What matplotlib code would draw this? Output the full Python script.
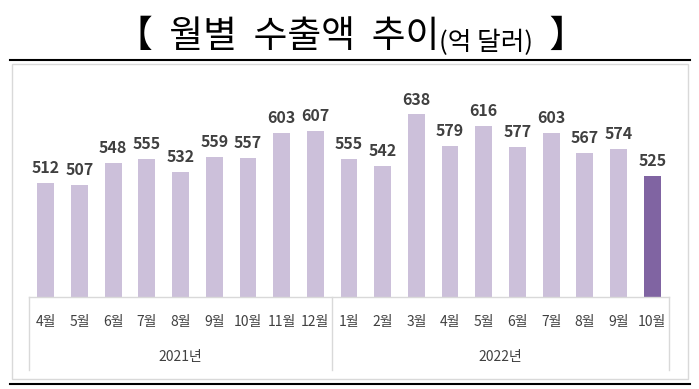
import matplotlib.pyplot as plt
from matplotlib.lines import Line2D
from matplotlib.patches import Rectangle
from matplotlib.transforms import blended_transform_factory

plt.rcParams['font.family'] = ['Noto Sans CJK KR', 'DejaVu Sans']

# data (억 달러)
months = ['4월', '5월', '6월', '7월', '8월', '9월', '10월', '11월', '12월',
          '1월', '2월', '3월', '4월', '5월', '6월', '7월', '8월', '9월', '10월']
values = [512, 507, 548, 555, 532, 559, 557, 603, 607,
          555, 542, 638, 579, 616, 577, 603, 567, 574, 525]
years = ['2021년', '2022년']
year_sizes = [9, 10]

W, H = 699, 389
fig = plt.figure(figsize=(W / 100, H / 100), dpi=100)

# pixel helpers
def fx(x):
    return x / W

def fy(y):
    return 1 - y / H

ax_left, ax_right, ax_top, ax_bottom = 29, 669, 81, 297
ax = fig.add_axes([fx(ax_left), fy(ax_bottom), fx(ax_right - ax_left), (ax_bottom - ax_top) / H])

colors = ['#CCC0DA'] * (len(values) - 1) + ['#8064A2']
x = list(range(len(values)))
bars = ax.bar(x, values, width=0.5, color=colors, zorder=2)
ax.set_xlim(-0.5, len(values) - 0.5)
ax.set_ylim(300, 700)
ax.axis('off')

for xi, v in zip(x, values):
    ax.annotate(str(v), (xi, v), xytext=(0, 5), textcoords='offset points',
                ha='center', va='bottom', fontsize=11.5, fontweight='bold', color='#404040')

# category axis with two levels
tr = blended_transform_factory(ax.transData, ax.transAxes)
grid_c = '#D9D9D9'
ax.plot([-0.5, len(values) - 0.5], [0, 0], transform=tr, color=grid_c, lw=1, clip_on=False)
depth = -(370 - ax_bottom) / (ax_bottom - ax_top)
edges = [-0.5]
for n in year_sizes:
    edges.append(edges[-1] + n)
for e in edges:
    ax.plot([e, e], [0, depth], transform=tr, color=grid_c, lw=1, clip_on=False)

month_y = -(322 - ax_bottom) / (ax_bottom - ax_top)
for xi, m in zip(x, months):
    ax.text(xi, month_y, m, transform=tr, ha='center', va='center', fontsize=10, color='#404040')

year_y = -(357 - ax_bottom) / (ax_bottom - ax_top)
for i, yname in enumerate(years):
    ax.text((edges[i] + edges[i + 1]) / 2, year_y, yname, transform=tr,
            ha='center', va='center', fontsize=10, color='#404040')

# outer frame and rules
fig.add_artist(Rectangle((fx(12), fy(379)), fx(688 - 12), (379 - 64) / H,
                         transform=fig.transFigure, fill=False, edgecolor=grid_c, lw=1))
fig.add_artist(Line2D([fx(10), fx(690)], [fy(60), fy(60)], transform=fig.transFigure, color='black', lw=1.5))
fig.add_artist(Line2D([fx(10), fx(690)], [fy(384), fy(384)], transform=fig.transFigure, color='black', lw=1.5))

# title
t1 = fig.text(fx(116), fy(47), '【  월별  수출액  추이', fontsize=26.5, color='black', va='baseline', ha='left')
t2 = fig.add_artist(plt.Annotation('(억 달러)', xy=(1, 0), xycoords=t1, va='bottom', ha='left',
                                   fontsize=18.5, color='black'))
fig.add_artist(plt.Annotation('  】', xy=(1, 0), xycoords=t2, va='bottom', ha='left',
                              fontsize=26.5, color='black'))

fig.savefig('out.png', dpi=100)
